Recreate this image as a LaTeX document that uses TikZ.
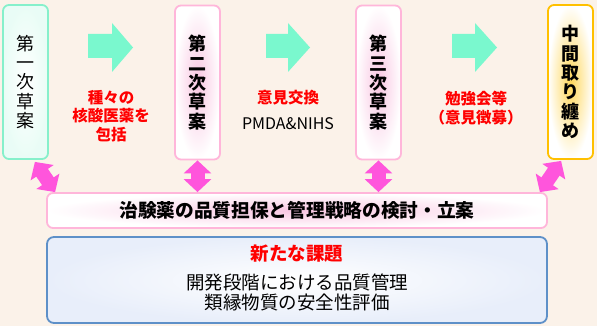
\documentclass[tikz,border=0pt]{standalone}
\usepackage{fontspec}
\setmainfont{Noto Sans CJK JP}
\usetikzlibrary{arrows.meta,calc}
\definecolor{bgc}{HTML}{FBF2E9}
\definecolor{mintc}{HTML}{7AF8CE}
\definecolor{mintb}{HTML}{86F0CB}
\definecolor{pinkb}{HTML}{FFB6DA}
\definecolor{pinkg}{HTML}{F9C6E2}
\definecolor{magc}{HTML}{FF55DC}
\definecolor{goldb}{HTML}{FFC000}
\definecolor{goldg}{HTML}{FFD75A}
\definecolor{blueb}{HTML}{5E90C8}
\definecolor{blueg}{HTML}{E8EEFA}
\definecolor{redc}{HTML}{FF0000}
\begin{document}
\begin{tikzpicture}[x=1pt,y=-1pt,
  vbox/.style={rounded corners=6pt, line width=1.8pt, minimum width=45pt,
    minimum height=154pt, inner sep=0pt, align=center,
    font=\fontsize{18}{19.3}\selectfont},
  blockarrow/.style={fill=mintc},
  dbl/.style={draw=magc, line width=14pt,
    {Triangle[width=27pt,length=13pt]}-{Triangle[width=27pt,length=13pt]}},
  redlbl/.style={text=redc, align=center, font=\bfseries\fontsize{15.5}{18.5}\selectfont},
]
\fill[bgc] (0,0) rectangle (597,326);
\useasboundingbox (0,0) rectangle (597,326);

% vertical boxes
\node[vbox, draw=mintb, inner color=white, outer color=mintb!18] (b1) at (25.5,82) {第\\一\\次\\草\\案};
\node[vbox, draw=pinkb, inner color=pinkg, outer color=white, font=\bfseries\fontsize{18}{19.3}\selectfont] (b2) at (197.5,82.5) {第\\二\\次\\草\\案};
\node[vbox, draw=pinkb, inner color=pinkg, outer color=white, font=\bfseries\fontsize{18}{19.3}\selectfont] (b3) at (378.5,82.5) {第\\三\\次\\草\\案};
\node[vbox, draw=goldb, inner color=goldg, outer color=white, font=\bfseries\fontsize{18}{19.3}\selectfont] (b4) at (570.5,82) {中\\間\\取\\り\\纏\\め};

% block arrows
\fill[blockarrow] (88,34) -- (112,34) -- (112,23) -- (133,47.5) -- (112,72) -- (112,58) -- (88,58) -- cycle;
\fill[blockarrow] (266,34) -- (288,34) -- (288,23) -- (310,47.5) -- (288,72) -- (288,58) -- (266,58) -- cycle;
\fill[blockarrow] (452,34) -- (475,34) -- (475,23) -- (497,47.5) -- (475,72) -- (475,58) -- (452,58) -- cycle;

% labels between boxes
\node[redlbl] (l1) at (111,116) {種々の\\核酸医薬を\\包括};
\node[redlbl] (l2) at (288,98) {意見交換};
\node[font=\fontsize{16}{18}\selectfont] (l2b) at (288,124) {PMDA\&NIHS};
\node[redlbl] (l3) at (476,108) {勉強会等\\（意見徴募）};

% wide boxes
\node[rounded corners=6pt, line width=1.8pt, draw=pinkb, inner color=pinkg, outer color=white,
  minimum width=500pt, minimum height=35pt, inner sep=0pt,
  font=\bfseries\fontsize{18.7}{20}\selectfont] (big) at (297,210.5) {治験薬の品質担保と管理戦略の検討・立案};
\node[rounded corners=7pt, line width=1.8pt, draw=blueb, inner color=white, outer color=blueg,
  minimum width=500pt, minimum height=86pt, inner sep=0pt] (bot) at (297,280) {};
\node[text=redc, font=\bfseries\fontsize{18.5}{20}\selectfont] (nt) at (297,254) {新たな課題};
\node[align=center, font=\fontsize{18.5}{19.5}\selectfont] (nl) at (297,292.5) {開発段階における品質管理\\類縁物質の安全性評価};

% double arrows
\draw[dbl] ([shift={(-14,2)}]b1.south east) -- ([shift={(9,0)}]big.north west);
\draw[dbl] (b2.south) -- (b2.south |- big.north);
\draw[dbl] (b3.south) -- (b3.south |- big.north);
\draw[dbl] ([shift={(14,1)}]b4.south west) -- ([shift={(-8,0)}]big.north east);
\end{tikzpicture}
\end{document}
